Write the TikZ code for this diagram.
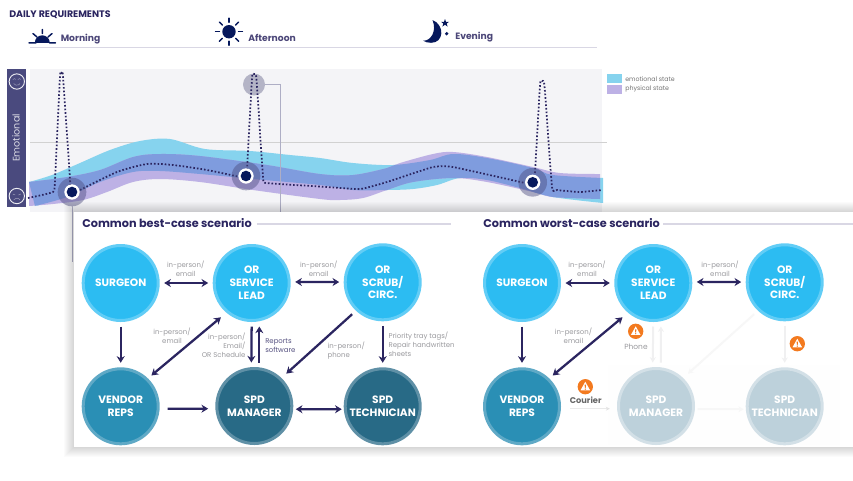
\documentclass[tikz,border=0pt]{standalone}
\usepackage{fontspec}
\setmainfont{Poppins}
\usetikzlibrary{arrows.meta}
\definecolor{ink}{HTML}{2B2560}
\definecolor{navy}{HTML}{06185C}
\definecolor{barc}{HTML}{4A4A7E}
\definecolor{plotbg}{HTML}{F4F4F7}
\definecolor{rulec}{HTML}{D9D7E4}
\definecolor{cyanb}{HTML}{86D3EE}
\definecolor{purpb}{HTML}{BDB1E5}
\definecolor{overb}{HTML}{7F9CDE}
\definecolor{greyt}{HTML}{9A9A9E}
\definecolor{lightf}{HTML}{2CBCF2}
\definecolor{lightb}{HTML}{62CDF6}
\definecolor{midf}{HTML}{2A8FB5}
\definecolor{midb}{HTML}{5FA9C6}
\definecolor{darkf}{HTML}{286A86}
\definecolor{darkb}{HTML}{5F90A6}
\definecolor{fadef}{HTML}{BDD1DB}
\definecolor{fadeb}{HTML}{D3E0E7}
\definecolor{fadel}{HTML}{F0F0F1}
\definecolor{warn}{HTML}{F37A1F}
\tikzset{
  role/.style={circle,minimum size=56.25pt,inner sep=0pt,outer sep=0pt,line width=2.25pt,align=center,text=white,
    font=\fontsize{8}{9.7}\selectfont\bfseries},
  lightrole/.style={role,fill=lightf,draw=lightb},
  midrole/.style={role,fill=midf,draw=midb},
  darkrole/.style={role,fill=darkf,draw=darkb},
  faderole/.style={role,fill=fadef,draw=fadeb},
  linkbase/.style={line width=1.7pt,draw=ink,shorten <=4.5pt,shorten >=4.5pt},
  onearrow/.style={linkbase,-{Stealth[length=5pt,width=6pt]}},
  botharrow/.style={linkbase,{Stealth[length=5pt,width=6pt]}-{Stealth[length=5pt,width=6pt]}},
  fadelink/.style={line width=1.5pt,draw=fadel,shorten <=4.5pt,shorten >=4.5pt,-{Stealth[length=4pt,width=4.5pt]}},
  note/.style={text=greyt,inner sep=0pt,font=\fontsize{5.2}{6.6}\selectfont},
  heading/.style={text=ink,inner sep=0pt,anchor=west,font=\fontsize{8.45}{10}\selectfont\bfseries},
  daylabel/.style={text=ink!85,inner sep=0pt,anchor=west,font=\fontsize{6.9}{8}\selectfont\bfseries},
  legendtext/.style={text=black!55,inner sep=0pt,anchor=west,font=\fontsize{4.7}{6}\selectfont},
  ruleline/.style={draw=rulec,line width=1pt},
  warndisc/.style={circle,fill=warn,minimum size=11.5pt,inner sep=0pt},
  halo/.style={circle,fill=barc,opacity=.45,minimum size=21.5pt,inner sep=0pt},
  ring/.style={circle,fill=white,minimum size=11.5pt,inner sep=0pt},
  core/.style={circle,fill=navy,minimum size=8pt,inner sep=0pt},
  facering/.style={circle,draw=white!90!barc,line width=.7pt,minimum size=11.5pt,inner sep=0pt},
  dotline/.style={draw=ink,line width=1.3pt,dash pattern=on 1.2pt off 1.5pt},
  warnsign/.pic={
    \fill[white] (0,-5) -- (4.8,3.6) -- (-4.8,3.6) -- cycle;
    \fill[warn] (-.7,-2) -- (.7,-2) -- (.4,1.2) -- (-.4,1.2) -- cycle;
    \fill[warn] (0,2.4) circle (.7);
  },
}
\def\cyanpath{plot[smooth,tension=.55] coordinates {(29,182)(52,175)(80,163)(110,150)(140,141)(170,139)(205,149)(250,151)(290,155)(320,158)(353,163)(393,165)(430,160)(453,154)(487,158)(533,168)(553,175)(603,178)}
 -- plot[smooth,tension=.55] coordinates {(603,203)(553,197)(520,188)(487,180)(460,178)(437,185)(413,189)(387,190)(353,190)(320,185)(253,179)(200,174)(160,171)(133,172)(100,182)(67,197)(35,206)} -- cycle}
\def\purppath{plot[smooth,tension=.55] coordinates {(29,182)(67,177)(100,170)(133,157)(160,154)(200,156)(267,165)(320,174)(353,175)(387,168)(400,163)(433,154)(453,152)(487,157)(533,167)(560,173)(600,174)}
 -- plot[smooth,tension=.55] coordinates {(600,199)(553,197)(533,192)(487,182)(453,178)(413,182)(387,190)(363,198)(340,200)(320,199)(253,190)(200,182)(160,179)(133,182)(107,192)(83,200)(53,204)(29,206)} -- cycle}
\begin{document}
\begin{tikzpicture}[x=0.75pt,y=-0.75pt]
\useasboundingbox (0,0) rectangle (853,480);
\fill[white] (0,0) rectangle (853,480);
% header
\node[heading,font=\fontsize{7.1}{8}\selectfont\bfseries] (daily) at (9,14.5) {DAILY REQUIREMENTS};
\draw[ruleline,line width=1.1pt] (30,47.5) -- (597,47.5);
\node[daylabel] (morning) at (60.5,39) {Morning};
\node[daylabel] (afternoon) at (248,38) {Afternoon};
\node[daylabel] (evening) at (455,37.5) {Evening};
% sunrise
\fill[navy] (34.8,42.8) arc[start angle=180,end angle=360,radius=7.5] -- cycle;
\draw[navy,line width=1.1pt,line cap=round]
  (29,42.8) -- (36,42.8) (49.5,42.8) -- (55.5,42.8)
  (42.3,29.5) -- (42.3,33.5) (33,33.6) -- (37,37) (52,33.6) -- (48,37);
% sun
\fill[navy] (229,31.7) circle (6.7);
\foreach \a in {0,45,...,315}{
  \draw[navy,line width=1.1pt,line cap=round] (229,31.7) ++(\a:9.5) -- ++(\a:4);
}
% moon
\fill[navy] (432.5,20) .. controls (445,25) and (444,43) .. (431,42.8) .. controls (428,42.8) and (425,42) .. (423.2,40.7)
  .. controls (431,41) and (437,31) .. (432.5,20) -- cycle;
\fill[navy] (445,19) -- (446,21.8) -- (449,21.8) -- (446.7,23.6) -- (447.6,26.5) -- (445,24.8) -- (442.4,26.5) -- (443.3,23.6) -- (441,21.8) -- (444,21.8) -- cycle;
\fill[navy] (446.7,33.7) circle (1.8);
% plot
\fill[plotbg] (30,69) rectangle (602,212);
\draw[draw=black!18,line width=.6pt] (30,142) -- (607,142);
\fill[cyanb] \cyanpath;
\fill[purpb] \purppath;
\begin{scope}
  \clip \purppath;
  \fill[overb] \cyanpath;
\end{scope}
% left bar
\fill[barc] (6.5,69) rectangle (25.5,207);
\node[rotate=90,text=white!80!barc,inner sep=0pt,font=\fontsize{7.2}{8}\selectfont] (emo) at (16,138) {Emotional};
\node[facering] (happy) at (16.8,81.5) {};
\node[facering] (sad) at (16.8,196) {};
\draw[white!50!barc,line width=.35pt] (12.8,79.5) arc[start angle=200,end angle=340,radius=1.5] (17.8,79.5) arc[start angle=200,end angle=340,radius=1.5]
  (13.7,83.5) arc[start angle=150,end angle=30,radius=3.6];
\draw[white!50!barc,line width=.35pt] (12.8,194) -- (15.2,195) (20.8,194) -- (18.4,195)
  (13.7,200) arc[start angle=210,end angle=330,radius=3.6];
% highlight
\node[circle,fill=black!10!barc!40,minimum size=16.5pt,inner sep=0pt] (peak) at (254,84.5) {};
\coordinate (elbow) at (280.5,84.5);
\coordinate (drop) at (280.5,213);
\draw[draw=barc!45,line width=.6pt] (peak.east) -- (elbow) -- (drop);
% dotted line
\draw[dotline,line join=round] plot[smooth,tension=.25] coordinates {(28,198)(53,192)(55,180)(60,76)(61.5,73)(63,76)(70.7,190)};
\draw[dotline,line join=round] plot[smooth,tension=.4] coordinates {(80,190)(117,172)(147,164)(173,165)(207,170)(240,177)};
\draw[dotline,line join=round] plot[smooth,tension=.25] coordinates {(247,170)(252,78)(254,74)(256.5,79)(263,177)(267,183)(320,186.5)(360,189)(387,182)(433,167)(453,167)(525,183)};
\draw[dotline,line join=round] plot[smooth,tension=.25] coordinates {(535,173)(540,85)(542,81)(544.5,86)(552,187)(557,190)(580,192)(602,190)};
% markers
\coordinate (m1) at (72,192);
\coordinate (m2) at (246,176);
\coordinate (m3) at (532.7,182.3);
\foreach \m in {m1,m2,m3}{
  \node[halo] at (\m) {};
  \node[ring] at (\m) {};
  \node[core] at (\m) {};
}
\coordinate (dropa) at (72,262);
\draw[draw=barc!45,line width=.6pt] (72,206) -- (dropa);
% legend
\fill[cyanb] (607.3,74) rectangle (622,82.7);
\fill[purpb] (607.3,85) rectangle (622,93.7);
\node[legendtext] (lega) at (625,78.7) {emotional state};
\node[legendtext] (legb) at (625,88.7) {physical state};
% panel shadow
\foreach \s in {10,9,...,1}{
  \fill[black,opacity=.015] (74-\s,212-\s) rectangle (853,447+\s);
}
\fill[white] (74,212) rectangle (853,447);
% headings
\node[heading] (best) at (82,223) {Common best-case scenario};
\node[heading] (worst) at (483,223) {Common worst-case scenario};
\coordinate (bestend) at (451,224);
\coordinate (worstend) at (853,224);
\draw[ruleline] (best.east) ++(5,1) -- (bestend);
\draw[ruleline] (worst.east) ++(3,1) -- (worstend);
% faint floor on the right
\fill[black!.5] (608,365) rectangle (840,445);
% best-case nodes
\node[lightrole] (s1) at (120.7,283) {SURGEON};
\node[lightrole] (l1) at (251.7,283) {OR\\SERVICE\\LEAD};
\node[lightrole] (c1) at (382.7,282.3) {OR\\SCRUB/\\CIRC.};
\node[midrole] (v1) at (120.7,406.3) {VENDOR\\REPS};
\node[darkrole] (m1n) at (254.3,406) {SPD\\MANAGER};
\node[darkrole] (t1) at (382.7,406.3) {SPD\\TECHNICIAN};
% best-case links
\draw[botharrow] (s1) -- (l1);
\draw[botharrow] ([yshift=.8pt]l1.east) -- ([yshift=.2pt]c1.west);
\draw[onearrow] (s1.south) -- (v1.north);
\draw[botharrow,shorten <=6.5pt,shorten >=4.5pt] (l1.230) -- (v1.46);
\draw[onearrow] (l1.south) -- ([xshift=-2.25pt]m1n.north);
\draw[onearrow] ([xshift=3.75pt]m1n.north) -- ([xshift=5.7pt]l1.south);
\draw[onearrow,shorten <=5pt,shorten >=6pt] (c1.227) -- (m1n.46);
\draw[onearrow] (c1.south) -- (t1.north);
\draw[onearrow,shorten <=7pt,shorten >=6.5pt] ([yshift=-1.8pt]v1.east) -- ([yshift=-2pt]m1n.west);
\draw[botharrow,shorten <=3pt,shorten >=2.6pt] ([yshift=-2.4pt]m1n.east) -- ([yshift=-2.2pt]t1.west);
% best-case labels
\node[note,align=center] (n1) at (185.7,268.7) {in-person/\\email};
\node[note,align=center] (n2) at (318.7,269) {in-person/\\email};
\node[note,align=center] (n3) at (172,336) {in-person/\\email};
\node[note,align=right,anchor=east] (n4) at (245.7,345.5) {in-person/\\Email/\\OR Schedule};
\node[note,align=left,anchor=west,text=ink!80] (n5) at (265,346) {Reports\\software};
\node[note,align=left,anchor=west] (n6) at (327.3,350.5) {in-person/\\phone};
\node[note,align=left,anchor=west] (n7) at (388.3,344) {Priority tray tags/\\Repair handwritten\\sheets};
% worst-case nodes
\node[lightrole] (s2) at (522,283) {SURGEON};
\node[lightrole] (l2) at (653.3,283) {OR\\SERVICE\\LEAD};
\node[lightrole] (c2) at (784.7,282.3) {OR\\SCRUB/\\CIRC.};
\node[midrole] (v2) at (522,406.3) {VENDOR\\REPS};
\node[faderole] (m2n) at (656,406) {SPD\\MANAGER};
\node[faderole] (t2) at (784.7,406.3) {SPD\\TECHNICIAN};
% worst-case links
\draw[fadelink] (l2.south) -- ([xshift=-2.5pt]m2n.north);
\draw[fadelink] ([xshift=3.75pt]m2n.north) -- ([xshift=5.7pt]l2.south);
\draw[fadelink,draw=black!3,shorten <=5pt,shorten >=6pt] (c2.227) -- (m2n.46);
\draw[fadelink] (c2.south) -- (t2.north);
\draw[fadelink,draw=black!3,shorten <=3pt,shorten >=2.6pt] ([yshift=-2.4pt]m2n.east) -- ([yshift=-2.2pt]t2.west);
\draw[draw=black!12,line width=.35pt,shorten <=8pt,shorten >=6.5pt,-{Stealth[open,length=3pt,width=3pt]}] ([yshift=-1.8pt]v2.east) -- ([yshift=-2pt]m2n.west);
\draw[botharrow] (s2) -- (l2);
\draw[botharrow] ([yshift=.8pt]l2.east) -- ([yshift=.2pt]c2.west);
\draw[onearrow] (s2.south) -- (v2.north);
\draw[botharrow,shorten <=6.5pt,shorten >=4.5pt] (l2.230) -- (v2.46);
% worst-case labels
\node[note,align=center] (n8) at (587,268.7) {in-person/\\email};
\node[note,align=center] (n9) at (720,269) {in-person/\\email};
\node[note,align=center] (n10) at (573.5,336) {in-person/\\email};
\node[note,font=\fontsize{5.6}{7}\selectfont] (phone) at (636,346.3) {Phone};
\node[note,text=black!60,font=\fontsize{6.2}{7}\selectfont\bfseries] (courier) at (585.7,400.7) {Courier};
% warnings
\node[warndisc] (w1) at (635.7,331.3) {};
\node[warndisc] (w2) at (797.3,343.7) {};
\node[warndisc] (w3) at (585.3,386.7) {};
\pic at (w1) {warnsign};
\pic at (w2) {warnsign};
\pic at (w3) {warnsign};
\end{tikzpicture}
\end{document}
